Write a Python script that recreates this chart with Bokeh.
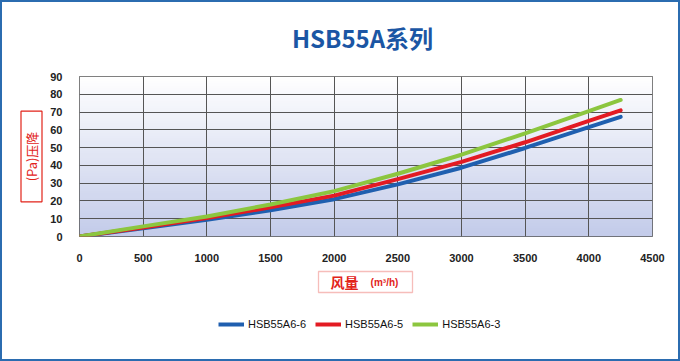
import numpy as np
from bokeh.plotting import figure
from bokeh.layouts import column
from bokeh.models import Range1d, Label, Legend, LegendItem, FixedTicker, BoxAnnotation, Title
from bokeh.embed import file_html
from bokeh.resources import INLINE

# ---- data ----
flow = [0, 500, 1000, 1500, 2000, 2500, 3000, 3500, 4000, 4250]
s_a6_6 = [0, 4.6, 9.4, 14.8, 21.0, 29.3, 38.7, 49.8, 61.5, 67.3]
s_a6_5 = [0, 5.1, 10.4, 16.4, 23.0, 32.3, 42.0, 53.0, 65.0, 71.0]
s_a6_3 = [0, 5.7, 11.3, 18.0, 25.5, 35.3, 46.0, 58.0, 70.5, 76.8]
series_names = ["HSB55A6-6", "HSB55A6-5", "HSB55A6-3"]
x_ticks = [0, 500, 1000, 1500, 2000, 2500, 3000, 3500, 4000, 4500]
y_ticks = [0, 10, 20, 30, 40, 50, 60, 70, 80, 90]
series = [s_a6_6, s_a6_5, s_a6_3]
colors = ["#1f5faf", "#e31b23", "#8cc63f"]

BW = 2                                  # outer blue border width
W, H = 680, 361
FL, FR, FT, FB = 79, 652, 76, 236       # plot frame edges in page pixels
P_TOP_BORDER = 8                        # main figure space above its frame
P_BOTTOM = 266                          # page y where main figure ends
SANS = "'Liberation Sans', Arial, sans-serif"
CJK = "Noto Sans CJK SC"
RED = "#e2231a"

def strip(height):
    f = figure(width=W - 2 * BW, height=height, output_backend="svg", toolbar_location=None,
               x_range=Range1d(-2, -1), y_range=Range1d(-2, -1),
               x_axis_location=None, y_axis_location=None,
               min_border_left=0, min_border_right=0, min_border_top=0, min_border_bottom=0)
    f.grid.visible = False
    f.outline_line_color = None
    f.background_fill_color = "white"
    f.border_fill_color = "white"
    return f

# ---- title strip ----
T_H = FT - BW - P_TOP_BORDER
t_bottom = BW + T_H
tfig = strip(T_H)
tfig.add_layout(Label(x=362 - FL, y=t_bottom - 37, x_units="screen", y_units="screen", text="HSB55A系列",
                      text_font=CJK, text_font_style="bold", text_font_size="24px", text_color="#1b56a4",
                      text_align="center", text_baseline="middle"))

# ---- main plot ----
p = figure(frame_width=FR - FL, frame_height=FB - FT, output_backend="svg", toolbar_location=None,
           x_range=Range1d(0, 4500), y_range=Range1d(0, 90),
           min_border_left=FL - BW, min_border_right=W - BW - FR, min_border_top=P_TOP_BORDER,
           min_border_bottom=P_BOTTOM - FB)
p.title.visible = False
p.background_fill_color = "white"
p.border_fill_color = "white"
p.outline_line_color = "#555555"
p.outline_line_width = 1

# gradient background (white top -> lavender bottom)
n = 64
top = np.array([255, 255, 255])
bot = np.array([196, 204, 234])
img = np.zeros((n, 1), dtype=np.uint32)
view = img.view(dtype=np.uint8).reshape((n, 1, 4))
for i in range(n):
    t = i / (n - 1)
    c = bot + (top - bot) * t
    view[i, 0, 0] = int(c[0]); view[i, 0, 1] = int(c[1]); view[i, 0, 2] = int(c[2]); view[i, 0, 3] = 255
p.image_rgba(image=[img], x=0, y=0, dw=4500, dh=90, level="image")

for ax in (p.xaxis[0], p.yaxis[0]):
    ax.axis_line_color = None
    ax.major_tick_line_color = None
    ax.minor_tick_line_color = None
    ax.major_label_text_font = SANS
    ax.major_label_text_font_style = "bold"
    ax.major_label_text_font_size = "11px"
    ax.major_label_text_color = "#222222"
p.xaxis.ticker = FixedTicker(ticks=x_ticks)
p.yaxis.ticker = FixedTicker(ticks=y_ticks)
p.xaxis.major_label_standoff = 11
p.yaxis.major_label_standoff = 11

p.xgrid.ticker = FixedTicker(ticks=x_ticks)
p.ygrid.ticker = FixedTicker(ticks=y_ticks)
for g in (p.xgrid[0], p.ygrid[0]):
    g.grid_line_color = "#555555"
    g.grid_line_width = 1
    g.grid_line_alpha = 1.0
    g.level = "underlay"

for ys, c in zip(series, colors):
    p.line(flow, ys, line_color=c, line_width=4, line_cap="round")

# y-axis title in the left panel, boxed (ideographic spaces lengthen the box)
p.add_layout(Title(text="\u3000\u2002(Pa)压降\u3000\u2002", align="center", text_font=CJK,
                   text_font_size="13px", text_font_style="normal", text_color=RED,
                   border_line_color=RED, border_line_width=1.2, padding=1, standoff=11), "left")

# ---- bottom strip: x-axis title + legend ----
B_H = H - BW - P_BOTTOM
bottom_y = H - BW
q = strip(B_H)
q.add_layout(BoxAnnotation(left=318 - FL, right=412 - FL, top=bottom_y - 271, bottom=bottom_y - 292,
                           left_units="screen", right_units="screen", top_units="screen", bottom_units="screen",
                           fill_alpha=0, line_color=RED, line_width=1.3))
q.add_layout(Label(x=344 - FL, y=bottom_y - 281, x_units="screen", y_units="screen", text="风量",
                   text_font=CJK, text_font_style="bold", text_font_size="14px", text_color=RED,
                   text_align="center", text_baseline="middle"))
q.add_layout(Label(x=384 - FL, y=bottom_y - 282, x_units="screen", y_units="screen", text="(m³/h)",
                   text_font=SANS, text_font_style="bold", text_font_size="10px", text_color=RED,
                   text_align="center", text_baseline="middle"))

lrs = [q.line(flow, ys, line_color=c, line_width=4) for ys, c in zip(series, colors)]
legend = Legend(items=[LegendItem(label=nm, renderers=[r]) for nm, r in zip(series_names, lrs)],
                orientation="horizontal", location=(218 - FL, bottom_y - 331),
                glyph_width=26, glyph_height=14, label_standoff=4, spacing=9, padding=0,
                label_text_font=SANS, label_text_font_size="11px", label_text_color="#111111",
                border_line_color=None, background_fill_alpha=0, margin=0)
q.add_layout(legend, "center")

layout = column(tfig, p, q, spacing=0, styles={"border": f"{BW}px solid #2b6cb0"})
open("out.html", "w").write(file_html(layout, INLINE))
